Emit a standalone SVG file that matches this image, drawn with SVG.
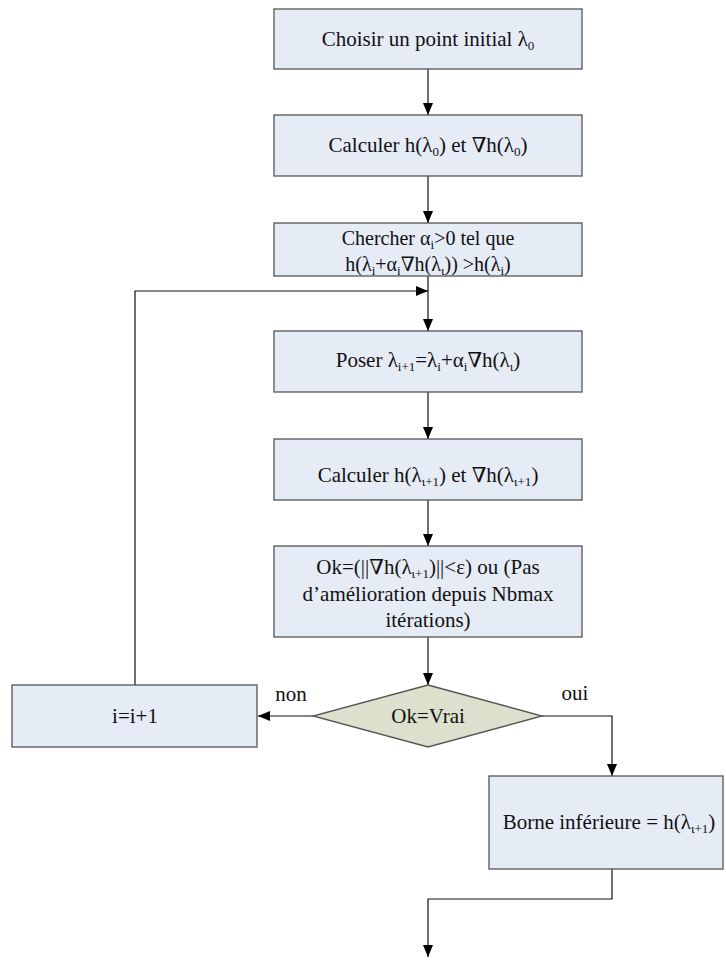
<svg xmlns="http://www.w3.org/2000/svg" width="726" height="960" viewBox="0 0 726 960">
<style>
.box{fill:#e6ecf6;stroke:#555;stroke-width:1.3}
.dia{fill:#dde0cc;stroke:#555;stroke-width:1.3}
text{font-family:'Liberation Serif','Times New Roman','DejaVu Serif',serif;font-size:21px;fill:#111;text-anchor:middle}
.s{font-size:13px;baseline-shift:-4px}
.sm{font-size:20px}
.ln{fill:none;stroke:#111;stroke-width:1.2}
</style>
<defs>
<marker id="ah" viewBox="0 0 12 10" refX="12" refY="5" markerWidth="12" markerHeight="10" markerUnits="userSpaceOnUse" orient="auto">
<path d="M0,0 L12,5 L0,10 Z" fill="#000"/>
</marker>
</defs>
<g id="connectors">
<path class="ln" d="M428,69 V115" marker-end="url(#ah)"/>
<path class="ln" d="M428,176 V223" marker-end="url(#ah)"/>
<path class="ln" d="M428,276 V331" marker-end="url(#ah)"/>
<path class="ln" d="M135,685 V291 H428" marker-end="url(#ah)"/>
<path class="ln" d="M428,392 V439" marker-end="url(#ah)"/>
<path class="ln" d="M428,500 V546" marker-end="url(#ah)"/>
<path class="ln" d="M428,637 V685" marker-end="url(#ah)"/>
<path class="ln" d="M313,716 H258" marker-end="url(#ah)"/>
<path class="ln" d="M542,716 H612 V776" marker-end="url(#ah)"/>
<path class="ln" d="M612,869 V899 H428 V957" marker-end="url(#ah)"/>
<text x="291" y="701">non</text>
<text x="575" y="700">oui</text>
</g>
<g id="n1">
<rect class="box" x="274" y="9" width="308" height="60"/>
<text x="428" y="46">Choisir un point initial λ<tspan class="s">0</tspan></text>
</g>
<g id="n2">
<rect class="box" x="274" y="115" width="308" height="61"/>
<text x="428" y="152">Calculer h(λ<tspan class="s">0</tspan>) et ∇h(λ<tspan class="s">0</tspan>)</text>
</g>
<g id="n3">
<rect class="box" x="274" y="223" width="308" height="53"/>
<text class="sm" x="428" y="245">Chercher α<tspan class="s">i</tspan>&gt;0 tel que</text>
<text class="sm" x="428" y="271">h(λ<tspan class="s">i</tspan>+α<tspan class="s">i</tspan>∇h(λ<tspan class="s">ι</tspan>)) &gt;h(λ<tspan class="s">i</tspan>)</text>
</g>
<g id="n4">
<rect class="box" x="274" y="331" width="308" height="61"/>
<text x="428" y="367">Poser λ<tspan class="s">i+1</tspan>=λ<tspan class="s">i</tspan>+α<tspan class="s">i</tspan>∇h(λ<tspan class="s">ι</tspan>)</text>
</g>
<g id="n5">
<rect class="box" x="274" y="439" width="308" height="61"/>
<text x="428" y="482">Calculer h(λ<tspan class="s">ι+1</tspan>) et ∇h(λ<tspan class="s">ι+1</tspan>)</text>
</g>
<g id="n6">
<rect class="box" x="274" y="546" width="308" height="91"/>
<text x="428" y="574">Ok=(||∇h(λ<tspan class="s">ι+1</tspan>)||&lt;ε) ou (Pas</text>
<text x="428" y="601">d’amélioration depuis Nbmax</text>
<text x="428" y="627">itérations)</text>
</g>
<g id="n7">
<polygon class="dia" points="428,685 542,716 428,747 313,716"/>
<text x="428" y="723">Ok=Vrai</text>
</g>
<g id="n8">
<rect class="box" x="12" y="685" width="245" height="62"/>
<text x="135" y="723">i=i+1</text>
</g>
<g id="n9">
<rect class="box" x="489" y="776" width="234" height="93"/>
<text x="609" y="829">Borne inférieure = h(λ<tspan class="s">ι+1</tspan>)</text>
</g>
</svg>
